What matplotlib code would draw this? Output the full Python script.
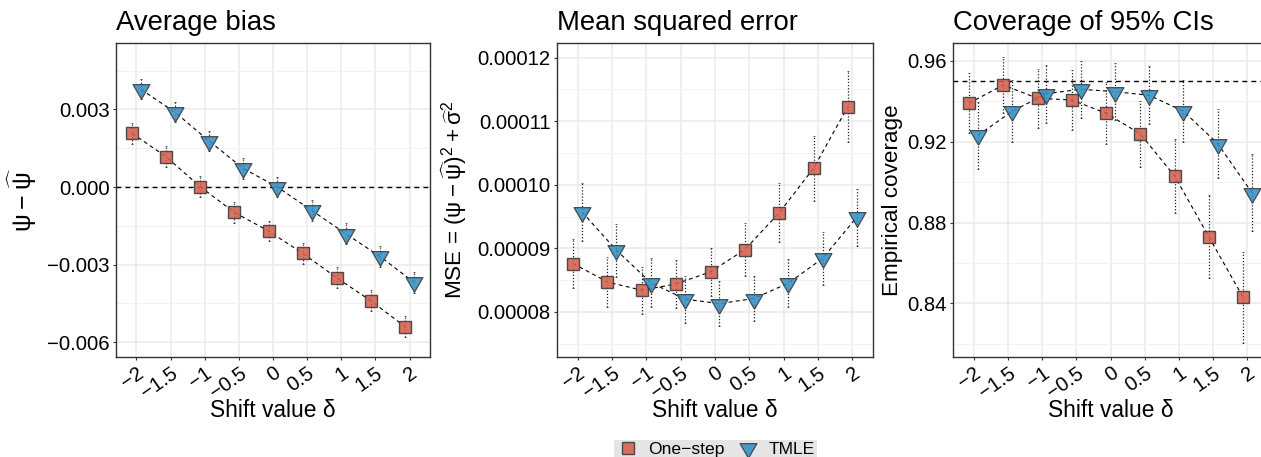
import numpy as np
import matplotlib
matplotlib.use("Agg")
import matplotlib.pyplot as plt
from matplotlib.lines import Line2D
from matplotlib.ticker import FixedLocator

plt.rcParams['font.family'] = ['Liberation Sans', 'DejaVu Sans']
plt.rcParams['mathtext.fontset'] = 'custom'
plt.rcParams['mathtext.rm'] = 'Liberation Sans'
plt.rcParams['mathtext.default'] = 'regular'

# ---- data ----
shift = [-2, -1.5, -1, -0.5, 0, 0.5, 1, 1.5, 2]
shift_labels = ['\u22122', '\u22121.5', '\u22121', '\u22120.5', '0', '0.5', '1', '1.5', '2']
methods = ['One\u2212step', 'TMLE']

bias_onestep = [0.00208, 0.00117, 0.00001, -0.00098, -0.00170, -0.00256, -0.00351, -0.00440, -0.00540]
bias_onestep_err = [0.00040, 0.00040, 0.00040, 0.00040, 0.00040, 0.00040, 0.00041, 0.00041, 0.00041]
bias_tmle = [0.00378, 0.00289, 0.00178, 0.00072, 0.00000, -0.00090, -0.00180, -0.00268, -0.00368]
bias_tmle_err = [0.00039, 0.00039, 0.00039, 0.00039, 0.00039, 0.00040, 0.00040, 0.00040, 0.00040]

mse_onestep = [8.76e-5, 8.47e-5, 8.34e-5, 8.44e-5, 8.63e-5, 8.98e-5, 9.56e-5, 10.26e-5, 11.23e-5]
mse_onestep_err = [3.9e-6, 3.9e-6, 3.7e-6, 3.8e-6, 3.8e-6, 4.2e-6, 4.6e-6, 5.1e-6, 5.6e-6]
mse_tmle = [9.57e-5, 8.97e-5, 8.46e-5, 8.20e-5, 8.13e-5, 8.21e-5, 8.45e-5, 8.84e-5, 9.49e-5]
mse_tmle_err = [4.6e-6, 4.2e-6, 3.8e-6, 3.7e-6, 3.5e-6, 3.5e-6, 3.8e-6, 4.1e-6, 4.5e-6]

cov_onestep = [0.9391, 0.9481, 0.9415, 0.9407, 0.9341, 0.9239, 0.9031, 0.8730, 0.8430]
cov_onestep_err = [0.0148, 0.0138, 0.0146, 0.0147, 0.0154, 0.0164, 0.0183, 0.0206, 0.0225]
cov_tmle = [0.9232, 0.9351, 0.9438, 0.9460, 0.9448, 0.9430, 0.9351, 0.9191, 0.8948]
cov_tmle_err = [0.0165, 0.0153, 0.0143, 0.0140, 0.0142, 0.0144, 0.0153, 0.0169, 0.0190]

bias_ticks = [-0.006, -0.003, 0.0, 0.003]
bias_ticklabels = ['\u22120.006', '\u22120.003', '0.000', '0.003']
mse_ticks = [8e-5, 9e-5, 10e-5, 11e-5, 12e-5]
mse_ticklabels = ['0.00008', '0.00009', '0.00010', '0.00011', '0.00012']
cov_ticks = [0.84, 0.88, 0.92, 0.96]
cov_ticklabels = ['0.84', '0.88', '0.92', '0.96']

# ---- style ----
W, H = 1261, 457
col_sq = '#D4604E'
col_tri = '#3490C6'
edge = '#3a3a3a'
dodge = 0.065
tri_down = [(0, -1), (-0.866, 0.5), (0.866, 0.5), (0, -1)]

fig = plt.figure(figsize=(W / 100, H / 100), dpi=100)


def px_axes(l, r, t, b):
    return fig.add_axes([l / W, 1 - b / H, (r - l) / W, (b - t) / H])


def draw_panel(ax, y1, e1, y2, e2, ylim, ticks, ticklabels, ylabel, title, hline,
               ylab_x, ylab_size=16.2):
    x = np.array(shift, dtype=float)
    xs, xt = x - dodge, x + dodge
    for xx, yy, ee in [(xs, y1, e1), (xt, y2, e2)]:
        eb = ax.errorbar(xx, yy, yerr=ee, fmt='none', ecolor='#222222',
                         elinewidth=0.9, capsize=0.9, capthick=0.5, zorder=2)
        eb[2][0].set_linestyle((0, (1, 1.5)))
        ax.plot(xx, yy, color='black', lw=0.8, ls=(0, (3.5, 3)), zorder=2)
    ax.plot(xs, y1, ls='none', marker='s', ms=8.2, mfc=col_sq, mec=edge, mew=1.0,
            alpha=0.88, zorder=3)
    ax.plot(xt, y2, ls='none', marker=tri_down, ms=14, mfc=col_tri, mec=edge, mew=0.9,
            alpha=0.88, zorder=3)
    if hline is not None:
        ax.axhline(hline, color='black', lw=1.0, ls=(0, (3.5, 3)), zorder=1.5)

    ax.set_xlim(-2.3, 2.3)
    ax.set_ylim(*ylim)
    ax.set_xticks(shift)
    ax.set_xticklabels(shift_labels, rotation=35, ha='right', va='top',
                       rotation_mode='anchor')
    ax.set_yticks(ticks)
    ax.set_yticklabels(ticklabels)
    t = np.array(ticks)
    step = t[1] - t[0]
    minor = np.arange(t[0] - step / 2, ylim[1], step)
    ax.yaxis.set_minor_locator(FixedLocator(minor))
    ax.grid(True, which='major', color='#EBEBEB', lw=1.1, zorder=0)
    ax.grid(True, which='minor', axis='y', color='#F2F2F2', lw=0.8, zorder=0)
    ax.set_axisbelow(True)
    ax.tick_params(which='major', length=2.5, width=0.8, color='#333333',
                   labelsize=14.6, pad=2, labelcolor='black')
    ax.tick_params(which='minor', length=0)
    for s in ax.spines.values():
        s.set_color('#333333')
        s.set_linewidth(1.0)
    ax.set_title(title, loc='left', fontsize=19.8, pad=9)
    ax.set_xlabel('Shift value \u03b4', fontsize=16.4)
    ax.xaxis.set_label_coords(0.5, -0.135)
    ax.set_ylabel(ylabel, fontsize=ylab_size)
    ax.yaxis.set_label_coords(ylab_x, 0.5)


ax1 = px_axes(116, 430, 43, 357)
draw_panel(ax1, bias_onestep, bias_onestep_err, bias_tmle, bias_tmle_err,
           (-0.00657, 0.00557), bias_ticks, bias_ticklabels,
           r'$\psi - \widehat{\psi}$', 'Average bias', 0.0, -0.245, ylab_size=18)

ax2 = px_axes(557, 873, 43, 357)
draw_panel(ax2, mse_onestep, mse_onestep_err, mse_tmle, mse_tmle_err,
           (7.29e-5, 12.23e-5), mse_ticks, mse_ticklabels,
           r'MSE = $(\psi - \widehat{\psi})^2 + \widehat{\sigma}^2$', 'Mean squared error',
           None, -0.28)

ax3 = px_axes(953, 1268, 43, 357)
draw_panel(ax3, cov_onestep, cov_onestep_err, cov_tmle, cov_tmle_err,
           (0.8134, 0.9689), cov_ticks, cov_ticklabels,
           'Empirical coverage', 'Coverage of 95% CIs', 0.95, -0.16)

handles = [
    Line2D([], [], ls='none', marker='s', ms=8.2, mfc=col_sq, mec=edge, mew=1.0, alpha=0.88),
    Line2D([], [], ls='none', marker=tri_down, ms=14, mfc=col_tri, mec=edge, mew=0.9, alpha=0.88),
]
fig.legend(handles, methods, loc='upper center', bbox_to_anchor=(715.5 / W, 1 - 431 / H),
           ncol=2, frameon=True, facecolor='#E5E5E5', edgecolor='none', fancybox=False,
           framealpha=1, fontsize=12.6, handletextpad=0.5, columnspacing=0.7,
           borderpad=0.12, handlelength=1.3)

fig.savefig('out.png', dpi=100)
